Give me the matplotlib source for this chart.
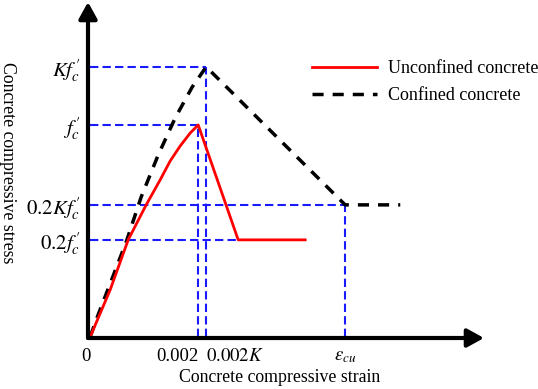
import numpy as np
import matplotlib
matplotlib.use('Agg')
import matplotlib.pyplot as plt

plt.rcParams['font.family'] = ['Liberation Serif', 'DejaVu Serif']
plt.rcParams['mathtext.fontset'] = 'stix'

# unconfined concrete (strain, stress / fc')
unconf_strain = [0.0, 0.000370, 0.000704, 0.001037, 0.001296, 0.001481, 0.001667, 0.001852, 0.002, 0.00274, 0.00398]
unconf_stress = [0.0, 0.222, 0.458, 0.623, 0.741, 0.830, 0.901, 0.962, 1.0, 0.458, 0.458]

# confined concrete
conf_strain = [0.0, 0.000111, 0.000667, 0.000944, 0.001259, 0.001574, 0.001889, 0.002148, 0.00472, 0.00574]
conf_stress = [0.0, 0.080, 0.448, 0.660, 0.858, 1.033, 1.179, 1.274, 0.623, 0.623]

# reference levels
x_ticks = [0.0, 0.002, 0.002148, 0.00472]
x_labels = ['0', '0.002', r'$0.002K$', r'$\varepsilon_{cu}$']
y_ticks = [1.274, 1.0, 0.623, 0.458]
y_labels = [r"$Kf_c^{\,\prime}$", r"$f_c^{\,\prime}$", r"$0.2Kf_c^{\,\prime}$", r"$0.2f_c^{\,\prime}$"]
h_ends = [0.002148, 0.002, 0.00472, 0.00274]
v_pos = [0.002, 0.002148, 0.00472]
v_tops = [1.0, 1.274, 0.623]

fig = plt.figure(figsize=(5.38, 3.89), dpi=100)
W, H = 538, 389
ax = fig.add_axes([88 / W, (H - 338) / H, (484 - 88) / W, (338 - 2) / H])
ax.set_xlim(-0.00004, 0.00729)
ax.set_ylim(-0.005, 1.58)
for s in ax.spines.values():
    s.set_visible(False)

blue = '#1a1aff'
ax.hlines(y_ticks, 0, h_ends, colors=blue, lw=1.5, linestyles=(0, (4, 2)), zorder=1)
ax.vlines(v_pos, 0, v_tops, colors=blue, lw=1.5, linestyles=(0, (4, 2)), zorder=1)

ax.plot(unconf_strain, unconf_stress, color='#ff0000', lw=2, label='Unconfined concrete', zorder=3)
ax.plot(conf_strain, conf_stress, color='black', lw=2.5, dashes=(3.2, 2.6), label='Confined concrete', zorder=2)

# axes with arrows
for tip in [(0, 1), (1, 0)]:
    ax.annotate('', xy=tip, xytext=(0, 0), xycoords='axes fraction',
                arrowprops=dict(arrowstyle='-|>,head_length=1.0,head_width=0.55', lw=3, color='black',
                                shrinkA=0, shrinkB=0))

ax.set_xticks(x_ticks)
ax.set_xticklabels(x_labels, fontsize=13.5)
ha = ['right', 'right', 'left', 'center']
for lab, a in zip(ax.get_xticklabels(), ha):
    lab.set_ha(a)
ax.set_yticks(y_ticks)
ax.set_yticklabels(y_labels, fontsize=15)
ax.tick_params(axis='x', length=0, pad=7)
ax.tick_params(axis='y', length=0, pad=5)

fig.text(280 / W, 1 - 378 / H, 'Concrete compressive strain', fontsize=12.8, ha='center', va='center')
fig.text(7 / W, 1 - 163 / H, 'Concrete compressive stress', fontsize=12.8, rotation=-90,
         ha='center', va='center')

ax.legend(loc='upper left', bbox_to_anchor=(296 / W, 1 - 44 / H), bbox_transform=fig.transFigure,
          frameon=False, fontsize=13, handlelength=3.6, handletextpad=0.6, labelspacing=0.55)

fig.savefig('out.png', dpi=100)
